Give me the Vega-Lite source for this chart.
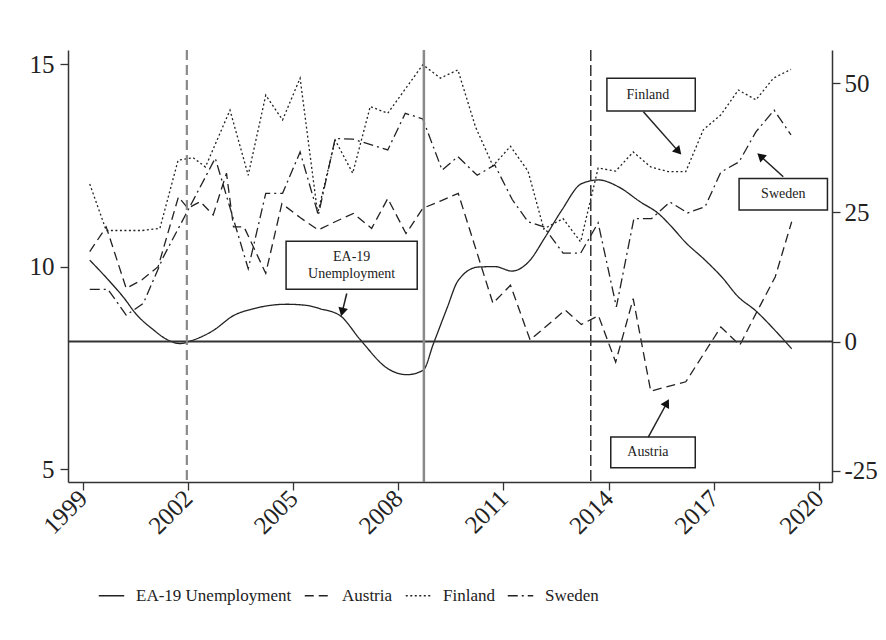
{
  "$schema": "https://vega.github.io/schema/vega-lite/v6.json",
  "width": 764,
  "height": 432,
  "autosize": {"type": "none"},
  "padding": {"left": 68, "top": 50, "right": 54, "bottom": 158},
  "background": "white",
  "config": {
    "view": {"stroke": null},
    "font": "Liberation Serif",
    "axis": {"grid": false, "title": null, "labelFont": "Liberation Serif", "labelFontSize": 25, "labelColor": "#222", "domainColor": "#333", "domainWidth": 1.5, "tickColor": "#333", "tickWidth": 1.3, "tickSize": 8, "labelPadding": 4}
  },
  "datasets": {
    "ea": [
      {"series": "EA-19 Unemployment", "x": 1999.2, "v": 10.16},
      {"series": "EA-19 Unemployment", "x": 1999.7, "v": 9.7},
      {"series": "EA-19 Unemployment", "x": 2000.2, "v": 9.2},
      {"series": "EA-19 Unemployment", "x": 2000.5, "v": 8.85},
      {"series": "EA-19 Unemployment", "x": 2001.0, "v": 8.45},
      {"series": "EA-19 Unemployment", "x": 2001.4, "v": 8.2},
      {"series": "EA-19 Unemployment", "x": 2001.78, "v": 8.1},
      {"series": "EA-19 Unemployment", "x": 2002.1, "v": 8.17},
      {"series": "EA-19 Unemployment", "x": 2002.72, "v": 8.42},
      {"series": "EA-19 Unemployment", "x": 2003.3, "v": 8.79},
      {"series": "EA-19 Unemployment", "x": 2003.87, "v": 8.96},
      {"series": "EA-19 Unemployment", "x": 2004.82, "v": 9.07},
      {"series": "EA-19 Unemployment", "x": 2005.4, "v": 9.04},
      {"series": "EA-19 Unemployment", "x": 2005.77, "v": 8.96},
      {"series": "EA-19 Unemployment", "x": 2006.34, "v": 8.79},
      {"series": "EA-19 Unemployment", "x": 2006.91, "v": 8.2},
      {"series": "EA-19 Unemployment", "x": 2007.72, "v": 7.47},
      {"series": "EA-19 Unemployment", "x": 2008.24, "v": 7.33},
      {"series": "EA-19 Unemployment", "x": 2008.71, "v": 7.44},
      {"series": "EA-19 Unemployment", "x": 2009.0, "v": 8.09},
      {"series": "EA-19 Unemployment", "x": 2009.38, "v": 8.95},
      {"series": "EA-19 Unemployment", "x": 2009.71, "v": 9.66},
      {"series": "EA-19 Unemployment", "x": 2010.28, "v": 9.99},
      {"series": "EA-19 Unemployment", "x": 2010.76, "v": 10.0},
      {"series": "EA-19 Unemployment", "x": 2011.24, "v": 9.89},
      {"series": "EA-19 Unemployment", "x": 2011.71, "v": 10.11},
      {"series": "EA-19 Unemployment", "x": 2012.19, "v": 10.73},
      {"series": "EA-19 Unemployment", "x": 2012.66, "v": 11.39},
      {"series": "EA-19 Unemployment", "x": 2013.23, "v": 12.05},
      {"series": "EA-19 Unemployment", "x": 2013.71, "v": 12.14},
      {"series": "EA-19 Unemployment", "x": 2014.28, "v": 11.97},
      {"series": "EA-19 Unemployment", "x": 2014.9, "v": 11.6},
      {"series": "EA-19 Unemployment", "x": 2015.42, "v": 11.31},
      {"series": "EA-19 Unemployment", "x": 2015.8, "v": 10.98},
      {"series": "EA-19 Unemployment", "x": 2016.18, "v": 10.61},
      {"series": "EA-19 Unemployment", "x": 2016.75, "v": 10.16},
      {"series": "EA-19 Unemployment", "x": 2017.23, "v": 9.74},
      {"series": "EA-19 Unemployment", "x": 2017.7, "v": 9.25},
      {"series": "EA-19 Unemployment", "x": 2018.18, "v": 8.92},
      {"series": "EA-19 Unemployment", "x": 2018.75, "v": 8.42},
      {"series": "EA-19 Unemployment", "x": 2019.22, "v": 7.97}
    ],
    "countries": [
      {"series": "Austria", "x": 1999.2, "v": 17.4},
      {"series": "Austria", "x": 1999.67, "v": 22.2},
      {"series": "Austria", "x": 2000.24, "v": 10.3},
      {"series": "Austria", "x": 2000.7, "v": 12.0},
      {"series": "Austria", "x": 2001.15, "v": 14.5},
      {"series": "Austria", "x": 2001.73, "v": 28.0},
      {"series": "Austria", "x": 2002.0, "v": 25.8},
      {"series": "Austria", "x": 2002.35, "v": 27.1},
      {"series": "Austria", "x": 2002.72, "v": 24.5},
      {"series": "Austria", "x": 2003.1, "v": 32.6},
      {"series": "Austria", "x": 2003.3, "v": 22.2},
      {"series": "Austria", "x": 2003.6, "v": 22.2},
      {"series": "Austria", "x": 2004.22, "v": 13.2},
      {"series": "Austria", "x": 2004.68, "v": 26.7},
      {"series": "Austria", "x": 2005.2, "v": 24.0},
      {"series": "Austria", "x": 2005.72, "v": 21.6},
      {"series": "Austria", "x": 2006.2, "v": 23.2},
      {"series": "Austria", "x": 2006.72, "v": 24.8},
      {"series": "Austria", "x": 2007.24, "v": 21.9},
      {"series": "Austria", "x": 2007.7, "v": 27.7},
      {"series": "Austria", "x": 2008.22, "v": 20.9},
      {"series": "Austria", "x": 2008.7, "v": 25.8},
      {"series": "Austria", "x": 2009.2, "v": 27.2},
      {"series": "Austria", "x": 2009.71, "v": 28.7},
      {"series": "Austria", "x": 2010.7, "v": 7.4},
      {"series": "Austria", "x": 2011.2, "v": 10.9},
      {"series": "Austria", "x": 2011.76, "v": 0.3},
      {"series": "Austria", "x": 2012.76, "v": 6.1},
      {"series": "Austria", "x": 2013.22, "v": 3.3},
      {"series": "Austria", "x": 2013.71, "v": 5.0},
      {"series": "Austria", "x": 2014.2, "v": -4.0},
      {"series": "Austria", "x": 2014.7, "v": 8.3},
      {"series": "Austria", "x": 2015.2, "v": -9.6},
      {"series": "Austria", "x": 2016.2, "v": -7.8},
      {"series": "Austria", "x": 2017.2, "v": 2.8},
      {"series": "Austria", "x": 2017.74, "v": -0.7},
      {"series": "Austria", "x": 2018.2, "v": 5.4},
      {"series": "Austria", "x": 2018.75, "v": 12.5},
      {"series": "Austria", "x": 2019.22, "v": 23.2},
      {"series": "Finland", "x": 1999.2, "v": 30.5},
      {"series": "Finland", "x": 1999.67, "v": 21.5},
      {"series": "Finland", "x": 2000.7, "v": 21.5},
      {"series": "Finland", "x": 2001.2, "v": 21.9},
      {"series": "Finland", "x": 2001.72, "v": 35.1},
      {"series": "Finland", "x": 2002.15, "v": 35.6},
      {"series": "Finland", "x": 2002.5, "v": 33.8},
      {"series": "Finland", "x": 2003.2, "v": 44.8},
      {"series": "Finland", "x": 2003.72, "v": 32.2},
      {"series": "Finland", "x": 2004.22, "v": 47.7},
      {"series": "Finland", "x": 2004.7, "v": 42.9},
      {"series": "Finland", "x": 2005.2, "v": 51.0},
      {"series": "Finland", "x": 2005.7, "v": 24.8},
      {"series": "Finland", "x": 2006.2, "v": 39.0},
      {"series": "Finland", "x": 2006.7, "v": 32.6},
      {"series": "Finland", "x": 2007.2, "v": 45.5},
      {"series": "Finland", "x": 2007.7, "v": 44.2},
      {"series": "Finland", "x": 2008.7, "v": 53.6},
      {"series": "Finland", "x": 2009.2, "v": 51.0},
      {"series": "Finland", "x": 2009.7, "v": 52.6},
      {"series": "Finland", "x": 2010.2, "v": 41.6},
      {"series": "Finland", "x": 2010.7, "v": 34.0},
      {"series": "Finland", "x": 2011.2, "v": 37.8},
      {"series": "Finland", "x": 2011.7, "v": 33.0},
      {"series": "Finland", "x": 2012.15, "v": 21.8},
      {"series": "Finland", "x": 2012.7, "v": 23.8},
      {"series": "Finland", "x": 2013.2, "v": 19.3},
      {"series": "Finland", "x": 2013.7, "v": 33.6},
      {"series": "Finland", "x": 2014.2, "v": 33.0},
      {"series": "Finland", "x": 2014.7, "v": 36.7},
      {"series": "Finland", "x": 2015.2, "v": 33.8},
      {"series": "Finland", "x": 2015.7, "v": 32.9},
      {"series": "Finland", "x": 2016.2, "v": 32.9},
      {"series": "Finland", "x": 2016.7, "v": 41.0},
      {"series": "Finland", "x": 2017.2, "v": 43.9},
      {"series": "Finland", "x": 2017.7, "v": 48.7},
      {"series": "Finland", "x": 2018.2, "v": 46.8},
      {"series": "Finland", "x": 2018.7, "v": 51.0},
      {"series": "Finland", "x": 2019.2, "v": 52.7},
      {"series": "Sweden", "x": 1999.2, "v": 10.1},
      {"series": "Sweden", "x": 1999.72, "v": 10.1},
      {"series": "Sweden", "x": 2000.24, "v": 5.1},
      {"series": "Sweden", "x": 2000.73, "v": 7.4},
      {"series": "Sweden", "x": 2001.3, "v": 16.4},
      {"series": "Sweden", "x": 2002.0, "v": 25.4},
      {"series": "Sweden", "x": 2002.58, "v": 32.9},
      {"series": "Sweden", "x": 2002.78, "v": 35.5},
      {"series": "Sweden", "x": 2003.72, "v": 14.1},
      {"series": "Sweden", "x": 2004.22, "v": 28.7},
      {"series": "Sweden", "x": 2004.7, "v": 28.7},
      {"series": "Sweden", "x": 2005.2, "v": 36.7},
      {"series": "Sweden", "x": 2005.72, "v": 24.5},
      {"series": "Sweden", "x": 2006.2, "v": 39.3},
      {"series": "Sweden", "x": 2006.7, "v": 39.2},
      {"series": "Sweden", "x": 2007.7, "v": 37.1},
      {"series": "Sweden", "x": 2008.2, "v": 44.2},
      {"series": "Sweden", "x": 2008.7, "v": 43.1},
      {"series": "Sweden", "x": 2009.25, "v": 33.2},
      {"series": "Sweden", "x": 2009.7, "v": 35.8},
      {"series": "Sweden", "x": 2010.25, "v": 32.2},
      {"series": "Sweden", "x": 2010.75, "v": 34.2},
      {"series": "Sweden", "x": 2011.25, "v": 27.5},
      {"series": "Sweden", "x": 2011.7, "v": 23.2},
      {"series": "Sweden", "x": 2012.15, "v": 22.2},
      {"series": "Sweden", "x": 2012.7, "v": 17.1},
      {"series": "Sweden", "x": 2013.2, "v": 17.1},
      {"series": "Sweden", "x": 2013.7, "v": 23.0},
      {"series": "Sweden", "x": 2014.22, "v": 6.7},
      {"series": "Sweden", "x": 2014.72, "v": 23.8},
      {"series": "Sweden", "x": 2015.22, "v": 23.8},
      {"series": "Sweden", "x": 2015.75, "v": 27.0},
      {"series": "Sweden", "x": 2016.25, "v": 24.9},
      {"series": "Sweden", "x": 2016.75, "v": 26.1},
      {"series": "Sweden", "x": 2017.2, "v": 32.8},
      {"series": "Sweden", "x": 2017.72, "v": 34.8},
      {"series": "Sweden", "x": 2018.2, "v": 40.6},
      {"series": "Sweden", "x": 2018.72, "v": 44.8},
      {"series": "Sweden", "x": 2019.2, "v": 40.0}
    ],
    "boxes": [
      {"label": "EA-19 Unemployment", "x": 2004.8, "x2": 2008.54, "v": 19.44, "v2": 10.14},
      {"label": "Finland", "x": 2013.95, "x2": 2016.47, "v": 50.97, "v2": 44.63},
      {"label": "Sweden", "x": 2017.72, "x2": 2020.24, "v": 31.59, "v2": 25.45},
      {"label": "Austria", "x": 2014.06, "x2": 2016.47, "v": -18.49, "v2": -24.42}
    ],
    "labels": [
      {"text": "EA-19", "x": 2006.67, "v": 16.3},
      {"text": "Unemployment", "x": 2006.67, "v": 13.1},
      {"text": "Finland", "x": 2015.12, "v": 47.8},
      {"text": "Sweden", "x": 2018.98, "v": 28.5},
      {"text": "Austria", "x": 2015.12, "v": -21.45}
    ],
    "arrows": [
      {"label": "EA-19 Unemployment", "x": 2006.53, "v": 9.3, "x2": 2006.4, "v2": 5.71, "angle": 194},
      {"label": "Finland", "x": 2014.99, "v": 44.5, "x2": 2015.99, "v2": 36.82, "angle": 138},
      {"label": "Sweden", "x": 2018.98, "v": 31.9, "x2": 2018.33, "v2": 35.9, "angle": 312},
      {"label": "Austria", "x": 2015.13, "v": -18.49, "x2": 2015.66, "v2": -11.9, "angle": 29}
    ]
  },
  "encoding": {
    "x": {
      "field": "x", "type": "quantitative",
      "scale": {"domain": [1998.58, 2020.37], "nice": false, "zero": false},
      "axis": {"values": [1999, 2002, 2005, 2008, 2011, 2014, 2017, 2020], "format": "d", "labelAngle": -45, "labelAlign": "right", "labelBaseline": "middle", "labelPadding": 4}
    }
  },
  "layer": [
    {
      "data": {"name": "ea"},
      "mark": {"type": "line", "interpolate": "monotone", "strokeWidth": 1.3, "color": "#222"},
      "encoding": {
        "y": {"field": "v", "type": "quantitative", "scale": {"domain": [4.68, 15.35], "nice": false, "zero": false}, "axis": {"orient": "left", "values": [5, 10, 15], "labelPadding": 6}},
        "strokeDash": {
          "field": "series", "type": "nominal",
          "scale": {"domain": ["EA-19 Unemployment", "Austria", "Finland", "Sweden"], "range": [[1, 0], [9, 5], [2, 2.5], [10, 4, 2, 4]]},
          "legend": {"title": null, "orient": "none", "legendX": 30, "legendY": 532, "direction": "horizontal", "symbolType": "stroke", "symbolSize": 650, "symbolStrokeWidth": 1.3, "symbolStrokeColor": "#222", "labelFont": "Liberation Serif", "labelFontSize": 17, "labelColor": "#222", "labelOffset": 11, "columnPadding": 10}
        }
      }
    },
    {
      "data": {"name": "countries"},
      "mark": {"type": "line", "strokeWidth": 1.3, "color": "#222"},
      "encoding": {
        "y": {"field": "v", "type": "quantitative", "scale": {"domain": [-27.2, 56.45], "nice": false, "zero": false}, "axis": {"orient": "right", "values": [-25, 0, 25, 50], "labelPadding": 4, "labelExpr": "replace(datum.label, '\u2212', '-')"}},
        "strokeDash": {
          "field": "series", "type": "nominal",
          "scale": {"domain": ["EA-19 Unemployment", "Austria", "Finland", "Sweden"], "range": [[1, 0], [9, 5], [2, 2.5], [10, 4, 2, 4]]},
          "legend": {"title": null, "orient": "none", "legendX": 30, "legendY": 532, "direction": "horizontal", "symbolType": "stroke", "symbolSize": 650, "symbolStrokeWidth": 1.3, "symbolStrokeColor": "#222", "labelFont": "Liberation Serif", "labelFontSize": 17, "labelColor": "#222", "labelOffset": 11, "columnPadding": 10}
        }
      }
    },
    {
      "data": {"values": [{"x": 1998.58, "x2": 2020.37, "v": 0}]},
      "mark": {"type": "rule", "strokeWidth": 2, "color": "#333"},
      "encoding": {
        "x2": {"field": "x2"},
        "y": {"field": "v", "type": "quantitative", "scale": {"domain": [-27.2, 56.45], "nice": false, "zero": false}, "axis": null}
      }
    },
    {
      "data": {"values": [{"x": 2001.97}]},
      "mark": {"type": "rule", "strokeWidth": 2.2, "color": "#8a8a8a", "strokeDash": [10, 5]},
      "encoding": {}
    },
    {
      "data": {"values": [{"x": 2008.73}]},
      "mark": {"type": "rule", "strokeWidth": 2.5, "color": "#8a8a8a"},
      "encoding": {}
    },
    {
      "data": {"values": [{"x": 2013.49}]},
      "mark": {"type": "rule", "strokeWidth": 1.5, "color": "#333", "strokeDash": [11, 4]},
      "encoding": {}
    },
    {
      "data": {"name": "boxes"},
      "mark": {"type": "rect", "fill": "white", "stroke": "#222", "strokeWidth": 1.5},
      "encoding": {
        "x2": {"field": "x2"},
        "y": {"field": "v", "type": "quantitative", "scale": {"domain": [-27.2, 56.45], "nice": false, "zero": false}, "axis": null},
        "y2": {"field": "v2"}
      }
    },
    {
      "data": {"name": "labels"},
      "mark": {"type": "text", "font": "Liberation Serif", "fontSize": 14, "color": "#222", "align": "center", "baseline": "middle"},
      "encoding": {
        "y": {"field": "v", "type": "quantitative", "scale": {"domain": [-27.2, 56.45], "nice": false, "zero": false}, "axis": null},
        "text": {"field": "text"}
      }
    },
    {
      "data": {"name": "arrows"},
      "mark": {"type": "rule", "strokeWidth": 1.5, "color": "#222"},
      "encoding": {
        "x2": {"field": "x2"},
        "y": {"field": "v", "type": "quantitative", "scale": {"domain": [-27.2, 56.45], "nice": false, "zero": false}, "axis": null},
        "y2": {"field": "v2"}
      }
    },
    {
      "data": {"name": "arrows"},
      "mark": {"type": "point", "shape": "triangle-up", "filled": true, "size": 95, "color": "#111", "opacity": 1},
      "encoding": {
        "x": {"field": "x2", "type": "quantitative", "scale": {"domain": [1998.58, 2020.37], "nice": false, "zero": false}},
        "y": {"field": "v2", "type": "quantitative", "scale": {"domain": [-27.2, 56.45], "nice": false, "zero": false}, "axis": null},
        "angle": {"field": "angle", "type": "quantitative", "scale": null}
      }
    }
  ],
  "resolve": {"scale": {"y": "independent"}}
}
